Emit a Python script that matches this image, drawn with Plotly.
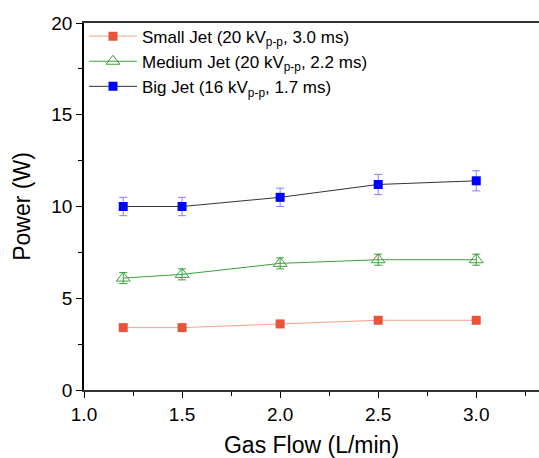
import plotly.graph_objects as go

gas_flow = [1.2, 1.5, 2.0, 2.5, 3.0]

small_power = [3.4, 3.4, 3.6, 3.8, 3.8]
small_err = [0.1, 0.1, 0.1, 0.1, 0.1]

medium_power = [6.1, 6.3, 6.9, 7.1, 7.1]
medium_err = [0.3, 0.3, 0.3, 0.3, 0.3]

big_power = [10.0, 10.0, 10.5, 11.2, 11.4]
big_err = [0.5, 0.5, 0.5, 0.55, 0.55]

series_names = [
    "Small Jet (20 kV<sub>p-p</sub>, 3.0 ms)",
    "Medium Jet (20 kV<sub>p-p</sub>, 2.2 ms)",
    "Big Jet (16 kV<sub>p-p</sub>, 1.7 ms)",
]

font_family = "Liberation Sans, Arial, sans-serif"

fig = go.Figure()

fig.add_trace(go.Scatter(
    x=gas_flow, y=small_power, name=series_names[0], mode="lines+markers",
    line=dict(color="#F4A08E", width=1),
    marker=dict(symbol="square", size=9, color="#E8533A"),
    error_y=dict(type="data", array=small_err, color="#F4A08E", thickness=1, width=4),
))
fig.add_trace(go.Scatter(
    x=gas_flow, y=medium_power, name=series_names[1], mode="lines+markers",
    line=dict(color="#3E9E3E", width=1),
    marker=dict(symbol="triangle-up-open", size=12, color="#3E9E3E", line=dict(width=1)),
    error_y=dict(type="data", array=medium_err, color="#3E9E3E", thickness=1, width=4),
))
fig.add_trace(go.Scatter(
    x=gas_flow, y=big_power, name=series_names[2], mode="lines+markers",
    line=dict(color="#333333", width=1),
    marker=dict(symbol="square", size=9, color="#0000FF"),
    error_y=dict(type="data", array=big_err, color="#8080FF", thickness=1, width=4),
))

fig.update_layout(
    width=539, height=458,
    margin=dict(l=84, r=0, t=23, b=68),
    paper_bgcolor="white", plot_bgcolor="white",
    font=dict(family=font_family, color="black"),
    showlegend=True,
    legend=dict(
        x=0.0, y=1.012, xanchor="left", yanchor="top",
        bgcolor="rgba(0,0,0,0)", font=dict(size=17, family=font_family),
        tracegroupgap=0, itemwidth=48,
    ),
    xaxis=dict(
        range=[1.0, 3.32], tickmode="array", tickvals=[1.0, 1.5, 2.0, 2.5, 3.0],
        ticktext=["1.0", "1.5", "2.0", "2.5", "3.0"],
        ticks="outside", ticklen=6, tickwidth=1, tickcolor="black",
        minor=dict(dtick=0.25, ticks="outside", ticklen=4, tickcolor="black", tick0=1.0),
        showline=True, linecolor="#333333", linewidth=1.5, mirror=True,
        showgrid=False, zeroline=False,
        tickfont=dict(size=19),
        title=dict(text="Gas Flow (L/min)", font=dict(size=23), standoff=14),
    ),
    yaxis=dict(
        range=[0, 20], tickmode="array", tickvals=[0, 5, 10, 15, 20],
        ticks="outside", ticklen=6, tickwidth=1, tickcolor="black",
        minor=dict(dtick=2.5, ticks="outside", ticklen=4, tickcolor="black", tick0=0),
        showline=True, linecolor="black", linewidth=1.5,
        showgrid=False, zeroline=False,
        tickfont=dict(size=19),
        title=dict(text="Power (W)", font=dict(size=23), standoff=14),
    ),
)

fig.write_html("out.html")
